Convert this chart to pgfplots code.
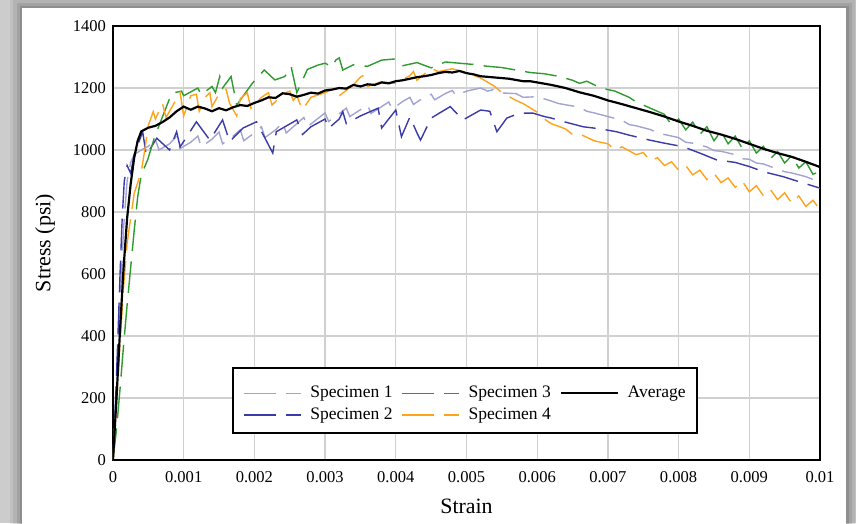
\documentclass[border=0pt]{standalone}
\usepackage{fontspec}
\setmainfont{Liberation Serif}
\usepackage{pgfplots}
\pgfplotsset{compat=1.18}

\definecolor{specA}{RGB}{163,163,209}
\definecolor{specB}{RGB}{58,58,168}
\definecolor{specC}{RGB}{47,154,47}
\definecolor{specD}{RGB}{255,163,26}
\definecolor{gridgray}{RGB}{208,208,208}
\definecolor{framegray}{RGB}{204,204,204}

\pgfplotsset{spec/.style={line width=0.7pt, dash pattern=on 0.56cm off 0.18cm}}

\begin{document}
\begin{tikzpicture}
% grey page and card with soft shadow
\fill[framegray] (-1.993,-1.111) rectangle (13.107,8.115);
\foreach \d/\o in {0.22/0.05,0.15/0.07,0.09/0.09,0.04/0.12}{
  \fill[black,opacity=\o] (-1.605-\d,-1.2) rectangle (12.939+\d,7.973+\d);
}
\fill[white] (-1.605,-1.2) rectangle (12.939,7.973);

\begin{axis}[
  width=12.472cm, height=7.656cm, scale only axis,
  xmin=0, xmax=0.01, ymin=0, ymax=1400,
  xtick={0,0.001,0.002,0.003,0.004,0.005,0.006,0.007,0.008,0.009,0.01},
  xticklabels={0,0.001,0.002,0.003,0.004,0.005,0.006,0.007,0.008,0.009,0.01},
  ytick={0,200,400,600,800,1000,1200,1400},
  scaled x ticks=false,
  /pgf/number format/1000 sep={},
  grid=major, major grid style={gridgray, line width=0.65pt},
  major tick length=0pt,
  axis line style={black, line width=1.3pt},
  tick label style={font=\fontsize{8.3}{10}\selectfont},
  xticklabel style={yshift=-0.07cm},
  /pgf/number format/assume math mode=true,
  xlabel={Strain}, ylabel={Stress (psi)},
  label style={font=\fontsize{11}{13}\selectfont},
  xlabel style={at={(axis description cs:0.5,-0.106)}, anchor=center},
  ylabel style={at={(axis description cs:-0.096,0.5)}, anchor=center},
  legend columns=3, legend cell align=left,
  legend image code/.code={\draw[#1] (0cm,0cm) -- (1.0cm,0cm);},
  legend style={at={(axis description cs:0.5035,0.129)}, anchor=center,
    draw=none, fill=none, font=\fontsize{8.8}{10}\selectfont,
    inner sep=0pt, row sep=-0.5pt,
    nodes={inner xsep=4.5pt},
    /tikz/every even column/.append style={column sep=0cm}},
]

% Specimen 1
\addplot[specA, spec, forget plot] coordinates {
(0,0) (0.00005,250) (0.0001,500) (0.00015,750) (0.0002,900) (0.00025,960)
(0.0003,985) (0.0004,1000) (0.0005,1012) (0.0006,1035) (0.00065,1000)
(0.0008,1020) (0.0009,1045) (0.00095,1005) (0.0011,1025) (0.0012,1045)
(0.00125,1010) (0.0014,1035) (0.0015,1058) (0.00155,1020) (0.0017,1045)
(0.0018,1065) (0.00185,1030) (0.002,1055) (0.0021,1075) (0.00215,1040)
(0.0023,1065) (0.0024,1088) (0.00245,1055) (0.0026,1085) (0.0027,1105)
(0.00275,1075) (0.0029,1102) (0.003,1120) (0.00305,1092) (0.0032,1117)
(0.0033,1135) (0.00335,1108) (0.0035,1130) (0.0036,1145) (0.00365,1118)
(0.0038,1140) (0.0039,1155) (0.00395,1132) (0.0041,1157) (0.0042,1170)
(0.00425,1147) (0.0044,1170) (0.0045,1180) (0.00455,1162) (0.0047,1182)
(0.0048,1192) (0.00485,1176) (0.005,1190) (0.0052,1200) (0.0053,1190)
(0.0054,1196) (0.0055,1184) (0.0057,1182) (0.0058,1170) (0.006,1172)
(0.0062,1158) (0.0063,1150) (0.0064,1146) (0.0066,1138) (0.0067,1125)
(0.0068,1120) (0.007,1108) (0.0072,1096) (0.0073,1082) (0.0074,1078)
(0.0076,1066) (0.0077,1055) (0.0078,1050) (0.008,1040) (0.0081,1025)
(0.0082,1022) (0.0084,1010) (0.0085,998) (0.0086,996) (0.0088,985)
(0.0089,972) (0.009,970) (0.0091,958) (0.0092,955) (0.0094,938)
(0.0095,930) (0.0096,926) (0.0098,914) (0.0099,905) (0.01,900)
};

% Specimen 2
\addplot[specB, spec, forget plot] coordinates {
(0,0) (0.00003,150) (0.00007,400) (0.0001,600) (0.00013,780) (0.00016,900)
(0.0002,950) (0.00025,925) (0.0003,985) (0.00042,1059) (0.00047,984)
(0.00062,1038) (0.0008,1000) (0.0009,1059) (0.00095,1010) (0.00118,1091)
(0.00137,1032) (0.00155,1097) (0.00165,1027) (0.00184,1071) (0.00203,1091)
(0.00226,990) (0.00231,1059) (0.0026,1097) (0.00268,1050) (0.0028,1075)
(0.003,1100) (0.00305,1070) (0.0032,1100) (0.00325,1124) (0.0033,1085)
(0.0035,1110) (0.00375,1135) (0.0038,1071) (0.0039,1100) (0.004,1129)
(0.00408,1043) (0.0042,1107) (0.0043,1055) (0.00435,1032) (0.0045,1103)
(0.00477,1140) (0.00495,1097) (0.0052,1129) (0.00533,1125) (0.00543,1059)
(0.00557,1103) (0.00575,1119) (0.00594,1119) (0.0061,1108) (0.0062,1103)
(0.0064,1090) (0.00665,1075) (0.0069,1068) (0.00712,1059) (0.0073,1048)
(0.00759,1032) (0.0078,1022) (0.00806,1011) (0.0083,990) (0.00854,968)
(0.0088,960) (0.00901,946) (0.0092,930) (0.00948,914) (0.0097,898)
(0.01,877)
};

% Specimen 3
\addplot[specC, spec, forget plot] coordinates {
(0,0) (0.00005,100) (0.0001,230) (0.00015,370) (0.0002,500) (0.00025,620)
(0.0003,740) (0.00035,850) (0.0004,920) (0.00049,968) (0.00059,1043)
(0.00083,1183) (0.00097,1190) (0.001,1175) (0.0012,1200) (0.00125,1178)
(0.0014,1205) (0.00145,1185) (0.00151,1237) (0.00155,1200) (0.00167,1237)
(0.00175,1145) (0.00197,1215) (0.00214,1258) (0.00229,1226) (0.00243,1237)
(0.00252,1269) (0.0026,1185) (0.00275,1260) (0.0029,1274) (0.003,1280)
(0.0031,1268) (0.00315,1290) (0.0032,1297) (0.00325,1258) (0.0034,1275)
(0.0036,1270) (0.0038,1290) (0.004,1294) (0.0041,1272) (0.0043,1282)
(0.0045,1265) (0.0047,1284) (0.0049,1280) (0.0051,1276) (0.0053,1270)
(0.0055,1266) (0.0057,1258) (0.0059,1250) (0.0061,1246) (0.0063,1238)
(0.0065,1225) (0.0066,1215) (0.0067,1222) (0.0069,1200) (0.0071,1190)
(0.0073,1170) (0.0074,1155) (0.0076,1135) (0.0077,1125) (0.0078,1115)
(0.0079,1080) (0.008,1100) (0.0081,1065) (0.0082,1090) (0.0083,1050)
(0.0084,1075) (0.0085,1030) (0.0086,1060) (0.0087,1020) (0.0088,1045)
(0.0089,1005) (0.009,1030) (0.0091,990) (0.0092,1012) (0.0093,972)
(0.0094,995) (0.0095,958) (0.0096,982) (0.0097,942) (0.0098,962)
(0.0099,922) (0.01,930)
};

% Specimen 4
\addplot[specD, spec, forget plot] coordinates {
(0,0) (0.00005,180) (0.0001,380) (0.00015,560) (0.0002,700) (0.0003,860)
(0.0004,930) (0.00045,1000) (0.0005,1080) (0.00057,1124) (0.0006,1100)
(0.0007,1150) (0.00075,1105) (0.0009,1165) (0.00095,1185) (0.001,1110)
(0.0011,1175) (0.00118,1180) (0.00122,1125) (0.0013,1170) (0.00137,1185)
(0.0014,1140) (0.0015,1180) (0.0016,1195) (0.00165,1150) (0.00175,1110)
(0.0018,1165) (0.0019,1185) (0.00195,1135) (0.0021,1170) (0.0022,1185)
(0.00225,1145) (0.0024,1180) (0.0025,1190) (0.00255,1160) (0.0026,1175)
(0.00268,1130) (0.0028,1170) (0.003,1185) (0.0031,1195) (0.0032,1175)
(0.0034,1210) (0.0035,1235) (0.00355,1242) (0.0036,1205) (0.0038,1220)
(0.004,1215) (0.0042,1240) (0.00425,1253) (0.0043,1225) (0.0045,1264)
(0.0046,1253) (0.0048,1262) (0.005,1250) (0.0052,1232) (0.0054,1205)
(0.0055,1185) (0.0057,1160) (0.0058,1150) (0.006,1122) (0.0061,1100)
(0.0062,1085) (0.0064,1068) (0.0065,1050) (0.0066,1052) (0.0068,1030)
(0.007,1020) (0.0071,1000) (0.0072,1010) (0.0074,985) (0.0075,992)
(0.0076,965) (0.0077,975) (0.0078,950) (0.0079,962) (0.008,935)
(0.0081,950) (0.0082,920) (0.0083,935) (0.0084,905) (0.0085,925)
(0.0086,895) (0.0087,910) (0.0088,880) (0.0089,900) (0.009,865)
(0.0091,885) (0.0092,852) (0.0093,872) (0.0094,840) (0.0095,862)
(0.0096,828) (0.0097,852) (0.0098,818) (0.0099,838) (0.01,808)
};

% Average
\addplot[black, line width=1.1pt, forget plot] coordinates {
(0,0) (0.00005,200) (0.0001,420) (0.00015,620) (0.0002,780) (0.00025,890)
(0.0003,975) (0.00035,1030) (0.0004,1060) (0.0005,1072) (0.0006,1078)
(0.0007,1090) (0.0008,1105) (0.0009,1125) (0.001,1140) (0.0011,1130)
(0.0012,1140) (0.0013,1134) (0.0014,1125) (0.0015,1135) (0.0016,1128)
(0.0017,1138) (0.0018,1145) (0.0019,1142) (0.002,1152) (0.0021,1160)
(0.0022,1170) (0.0023,1168) (0.0024,1183) (0.0025,1180) (0.0026,1172)
(0.0027,1178) (0.0028,1185) (0.0029,1182) (0.003,1192) (0.0031,1195)
(0.0032,1200) (0.0033,1198) (0.0034,1210) (0.0035,1205) (0.0036,1212)
(0.0037,1210) (0.0038,1218) (0.0039,1215) (0.004,1222) (0.0041,1225)
(0.0042,1230) (0.0043,1235) (0.0044,1238) (0.0045,1242) (0.0046,1248)
(0.0047,1252) (0.0048,1250) (0.0049,1255) (0.005,1248) (0.0051,1244)
(0.0052,1238) (0.0053,1236) (0.0054,1234) (0.0055,1232) (0.0056,1230)
(0.0057,1226) (0.0058,1222) (0.0059,1222) (0.006,1218) (0.0062,1210)
(0.0064,1200) (0.0066,1186) (0.0068,1175) (0.007,1160) (0.0072,1148)
(0.0074,1135) (0.0076,1122) (0.0078,1108) (0.008,1092) (0.0082,1078)
(0.0084,1062) (0.0086,1050) (0.0088,1036) (0.009,1020) (0.0092,1004)
(0.0094,990) (0.0096,978) (0.0098,962) (0.01,945)
};

% legend frame
\filldraw[fill=white, draw=black, line width=1.2pt]
  (axis description cs:0.1697,0.0622) rectangle (axis description cs:0.826,0.212);

\addlegendimage{specA, spec}
\addlegendentry{Specimen 1}
\addlegendimage{specC, spec}
\addlegendentry{Specimen 3}
\addlegendimage{black, line width=1.1pt}
\addlegendentry{Average}
\addlegendimage{specB, spec}
\addlegendentry{Specimen 2}
\addlegendimage{specD, spec}
\addlegendentry{Specimen 4}
\end{axis}

\pgfresetboundingbox
\path[use as bounding box] (-1.993,-1.111) rectangle (13.107,8.115);
\end{tikzpicture}
\end{document}
